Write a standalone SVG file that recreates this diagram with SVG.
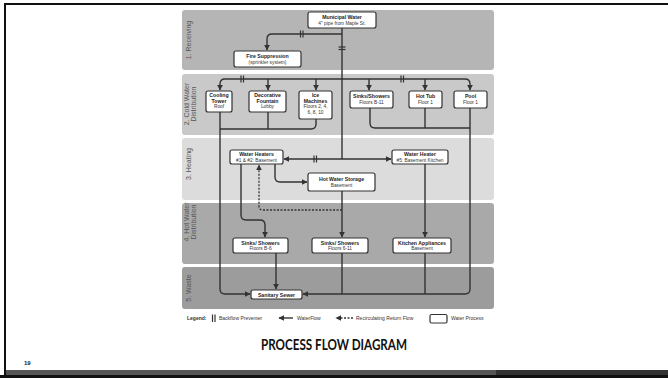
<svg xmlns="http://www.w3.org/2000/svg" width="668" height="378" viewBox="0 0 668 378">
<style>
.lane{stroke:none}
.ll{font-family:"Liberation Sans",Arial,sans-serif;font-size:7px;fill:#555;text-anchor:middle}
.box{fill:#fff;stroke:#333;stroke-width:1.2}
.t{font-family:"Liberation Sans",Arial,sans-serif;font-size:5.2px;font-weight:bold;fill:#222;text-anchor:middle}
.s{font-family:"Liberation Sans",Arial,sans-serif;font-size:4.8px;fill:#333;text-anchor:middle}
.c{fill:none;stroke:#333;stroke-width:1.4}
.d{fill:none;stroke:#333;stroke-width:1.3;stroke-dasharray:2 1.5}
.bf{stroke:#333;stroke-width:1.2}
.lg{font-family:"Liberation Sans",Arial,sans-serif;font-size:5px;fill:#333}
</style>
<defs>
<marker id="ah" viewBox="0 0 10 10" refX="9" refY="5" markerWidth="6" markerHeight="6" markerUnits="userSpaceOnUse" orient="auto-start-reverse">
<path d="M0,0 L10,5 L0,10 z" fill="#333"/>
</marker>
</defs>
<rect x="0" y="0" width="668" height="378" fill="#fff"/>
<!-- frame -->
<rect x="4" y="3" width="664" height="2" fill="#111"/>
<rect x="4" y="3" width="2" height="375" fill="#111"/>
<rect x="6" y="370" width="490" height="5" fill="#555"/>
<rect x="496" y="370" width="172" height="5" fill="#333"/>
<rect x="0" y="375" width="668" height="3" fill="#111"/>

<!-- lanes -->
<g id="lanes">
<rect class="lane" x="182" y="10" width="312" height="60" rx="3" fill="#b5b5b5"/>
<rect class="lane" x="182" y="74" width="312" height="61" rx="3" fill="#c9c9c9"/>
<rect class="lane" x="182" y="138" width="312" height="62" rx="3" fill="#dcdcdc"/>
<rect class="lane" x="182" y="203" width="312" height="61" rx="3" fill="#a9a9a9"/>
<rect class="lane" x="182" y="267" width="312" height="42" rx="3" fill="#9c9c9c"/>
<text class="ll" transform="translate(190.5,40) rotate(-90)">1. Receiving</text>
<text class="ll" transform="translate(189,104) rotate(-90)">2. Cold Water</text>
<text class="ll" transform="translate(196,104) rotate(-90)">Distribution</text>
<text class="ll" transform="translate(190.5,164) rotate(-90)">3. Heating</text>
<text class="ll" transform="translate(189,222) rotate(-90)">4. Hot Water</text>
<text class="ll" transform="translate(196,222) rotate(-90)">Distribution</text>
<text class="ll" transform="translate(190.5,288) rotate(-90)">5. Waste</text>
</g>

<!-- connectors -->
<g id="connectors">
<path class="c" d="M342,28 V159"/>
<path class="c" d="M342,34 H272 Q267,34 267,39 V50" marker-end="url(#ah)"/>
<line class="bf" x1="300.5" y1="30.5" x2="300.5" y2="37.5"/>
<line class="bf" x1="303" y1="30.5" x2="303" y2="37.5"/>
<line class="bf" x1="338.5" y1="47" x2="345.5" y2="47"/>
<line class="bf" x1="338.5" y1="49.5" x2="345.5" y2="49.5"/>

<path class="c" d="M342,79 H225 Q220,79 220,84 V90" marker-end="url(#ah)"/>
<path class="c" d="M268,79 V90" marker-end="url(#ah)"/>
<path class="c" d="M316,79 V90" marker-end="url(#ah)"/>
<path class="c" d="M342,79 H465 Q470,79 470,84 V90" marker-end="url(#ah)"/>
<path class="c" d="M369,79 V90" marker-end="url(#ah)"/>
<path class="c" d="M425,79 V90" marker-end="url(#ah)"/>
<line class="bf" x1="241" y1="75.5" x2="241" y2="82.5"/>
<line class="bf" x1="243.5" y1="75.5" x2="243.5" y2="82.5"/>
<line class="bf" x1="401" y1="75.5" x2="401" y2="82.5"/>
<line class="bf" x1="403.5" y1="75.5" x2="403.5" y2="82.5"/>

<path class="c" d="M220,112 V289 Q220,294 225,294 H250" marker-end="url(#ah)"/>
<path class="c" d="M268,112 V129"/>
<path class="c" d="M316,119 V124 Q316,129 311,129 H220"/>
<path class="c" d="M370,108 V123 Q370,128 375,128 H470"/>
<path class="c" d="M425,108 V128"/>
<path class="c" d="M470,108 V289 Q470,294 465,294 H303" marker-end="url(#ah)"/>

<path class="c" d="M284,159 H391" marker-start="url(#ah)" marker-end="url(#ah)"/>
<line class="bf" x1="314" y1="155.5" x2="314" y2="162.5"/>
<line class="bf" x1="316.5" y1="155.5" x2="316.5" y2="162.5"/>
<path class="c" d="M275,164 V177 Q275,182 280,182 H307" marker-end="url(#ah)"/>
<path class="c" d="M241,164 V215 Q241,220 246,220 H260 Q265,220 265,225 V237" marker-end="url(#ah)"/>
<path class="d" d="M342,210 H263 Q259,210 259,206 V165" marker-end="url(#ah)"/>
<path class="c" d="M342,191 V237" marker-end="url(#ah)"/>
<path class="c" d="M425,164 V237" marker-end="url(#ah)"/>

<path class="c" d="M276,253 V289" marker-end="url(#ah)"/>
<path class="c" d="M342,253 V294"/>
<path class="c" d="M425,253 V294"/>
</g>

<!-- nodes -->
<g id="municipal"><rect class="box" x="308" y="12" width="68" height="16" rx="2"/>
<text class="t" x="342" y="19">Municipal Water</text><text class="s" x="342" y="25">4" pipe from Maple St.</text></g>
<g id="fire"><rect class="box" x="234" y="51" width="67" height="16" rx="2"/>
<text class="t" x="267.5" y="58">Fire Suppression</text><text class="s" x="267.5" y="64">(sprinkler system)</text></g>
<g id="cooling"><rect class="box" x="206" y="91" width="26" height="21" rx="2"/>
<text class="t" x="219" y="97">Cooling</text><text class="t" x="219" y="102.5">Tower</text><text class="s" x="219" y="108">Roof</text></g>
<g id="fountain"><rect class="box" x="249" y="91" width="37" height="21" rx="2"/>
<text class="t" x="267.5" y="97">Decorative</text><text class="t" x="267.5" y="102.5">Fountain</text><text class="s" x="267.5" y="108">Lobby</text></g>
<g id="ice"><rect class="box" x="299" y="91" width="33" height="28" rx="2"/>
<text class="t" x="315.5" y="97">Ice</text><text class="t" x="315.5" y="102.5">Machines</text><text class="s" x="315.5" y="108">Floors 2, 4,</text><text class="s" x="315.5" y="113.5">6, 8, 10</text></g>
<g id="sinks-cold"><rect class="box" x="350" y="91" width="43" height="17" rx="2"/>
<text class="t" x="371.5" y="98">Sinks/Showers</text><text class="s" x="371.5" y="104">Floors B-11</text></g>
<g id="hottub"><rect class="box" x="409" y="91" width="33" height="17" rx="2"/>
<text class="t" x="425.5" y="98">Hot Tub</text><text class="s" x="425.5" y="104">Floor 1</text></g>
<g id="pool"><rect class="box" x="454" y="91" width="33" height="17" rx="2"/>
<text class="t" x="470.5" y="98">Pool</text><text class="s" x="470.5" y="104">Floor 1</text></g>
<g id="heaters12"><rect class="box" x="230" y="150" width="53" height="14" rx="2"/>
<text class="t" x="256.5" y="156">Water Heaters</text><text class="s" x="256.5" y="161.5">#1 &amp; #2: Basement</text></g>
<g id="heater5"><rect class="box" x="392" y="150" width="56" height="14" rx="2"/>
<text class="t" x="420" y="156">Water Heater</text><text class="s" x="420" y="161.5">#5: Basement Kitchen</text></g>
<g id="storage"><rect class="box" x="308" y="173" width="67" height="18" rx="2"/>
<text class="t" x="341.5" y="180.5">Hot Water Storage</text><text class="s" x="341.5" y="186.5">Basement</text></g>
<g id="sinks-b6"><rect class="box" x="233" y="238" width="55" height="15" rx="2"/>
<text class="t" x="260.5" y="244.5">Sinks/ Showers</text><text class="s" x="260.5" y="250">Floors B-6</text></g>
<g id="sinks-611"><rect class="box" x="312" y="238" width="56" height="15" rx="2"/>
<text class="t" x="340" y="244.5">Sinks/ Showers</text><text class="s" x="340" y="250">Floors 6-11</text></g>
<g id="kitchen"><rect class="box" x="393" y="238" width="58" height="15" rx="2"/>
<text class="t" x="422" y="244.5">Kitchen Appliances</text><text class="s" x="422" y="250">Basement</text></g>
<g id="sewer"><rect class="box" x="251" y="290" width="51" height="9" rx="2"/>
<text class="t" x="276.5" y="296.5">Sanitary Sewer</text></g>

<!-- legend -->
<g id="legend">
<text class="lg" x="187" y="320" font-weight="bold">Legend:</text>
<line class="bf" x1="212.5" y1="314.5" x2="212.5" y2="322"/>
<line class="bf" x1="215" y1="314.5" x2="215" y2="322"/>
<text class="lg" x="219" y="320">Backflow Preventer</text>
<path class="c" d="M293,318 H279" marker-end="url(#ah)"/>
<text class="lg" x="297" y="320">WaterFlow</text>
<path class="d" d="M353,318 H336" marker-end="url(#ah)"/>
<text class="lg" x="356" y="320">Recirculating Return Flow</text>
<rect class="box" x="430" y="314.5" width="17" height="8.5" rx="1.5"/>
<text class="lg" x="451" y="320">Water Process</text>
</g>

<text x="334" y="350" font-family="Lato,'Liberation Sans',sans-serif" font-size="16" font-weight="bold" fill="#111" text-anchor="middle" textLength="146" lengthAdjust="spacingAndGlyphs">PROCESS FLOW DIAGRAM</text>
<text x="24" y="365" font-family="'Liberation Sans',Arial,sans-serif" font-size="6" font-weight="bold" fill="#222">19</text>
</svg>
